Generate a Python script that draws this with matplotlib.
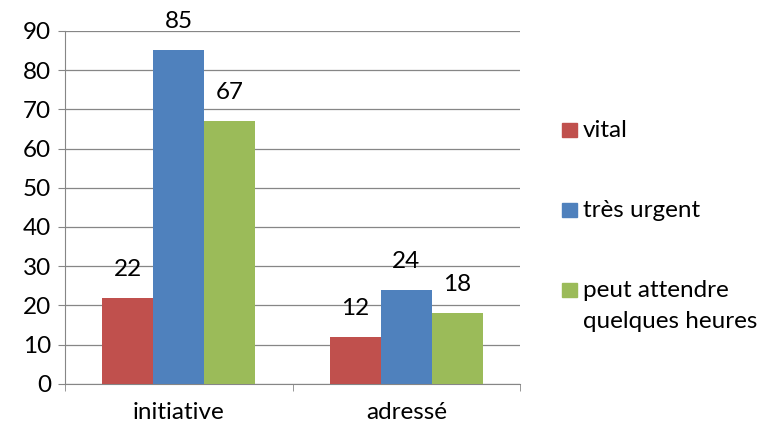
import numpy as np
import matplotlib.pyplot as plt
from matplotlib.patches import Rectangle

categories = ["initiative", "adressé"]
series_names = ["vital", "très urgent", "peut attendre\nquelques heures"]
vital = [22, 12]
tres_urgent = [85, 24]
peut_attendre = [67, 18]
colors = ["#C0504D", "#4F81BD", "#9BBB59"]

plt.rcParams['font.family'] = ['Lato', 'DejaVu Sans']
fs = 17.5

fig = plt.figure(figsize=(7.64, 4.28), dpi=100)
ax = fig.add_axes([0.085, 0.103, 0.596, 0.825])

x = np.arange(len(categories))
w = 0.224
for i, vals in enumerate([vital, tres_urgent, peut_attendre]):
    bars = ax.bar(x + (i - 1) * w, vals, w, color=colors[i], zorder=3)
    for b, v in zip(bars, vals):
        ax.annotate(str(v), (b.get_x() + b.get_width() / 2, v), xytext=(0, 13),
                    textcoords="offset points", ha="center", va="bottom", fontsize=fs)

ax.set_xlim(-0.5, 1.5)
ax.set_ylim(0, 90)
ax.set_yticks(range(0, 91, 10))
ax.set_xticks(x)
ax.set_xticklabels(categories)
ax.set_xticks([-0.5, 0.5, 1.5], minor=True)
ax.tick_params(axis="x", which="major", length=0, labelsize=fs, pad=13)
ax.tick_params(axis="x", which="minor", length=5, color="#868686")
ax.tick_params(axis="y", length=5, color="#868686", labelsize=fs, pad=5)
ax.grid(axis="y", color="#868686", lw=0.9, zorder=0)
for s in ["top", "right"]:
    ax.spines[s].set_visible(False)
for s in ["left", "bottom"]:
    ax.spines[s].set_color("#868686")

# legend drawn by hand so the square sits on the first line of a two-line label
W, H = fig.get_size_inches() * fig.dpi
for name, c, ytop in zip(series_names, colors, [123, 203, 283]):
    fig.add_artist(Rectangle((562 / W, 1 - (ytop + 14) / H), 15 / W, 14 / H,
                             color=c, transform=fig.transFigure))
    fig.text(583 / W, 1 - (ytop - 3) / H, name, fontsize=fs, va="top",
             linespacing=1.6)

fig.savefig("out.png")
